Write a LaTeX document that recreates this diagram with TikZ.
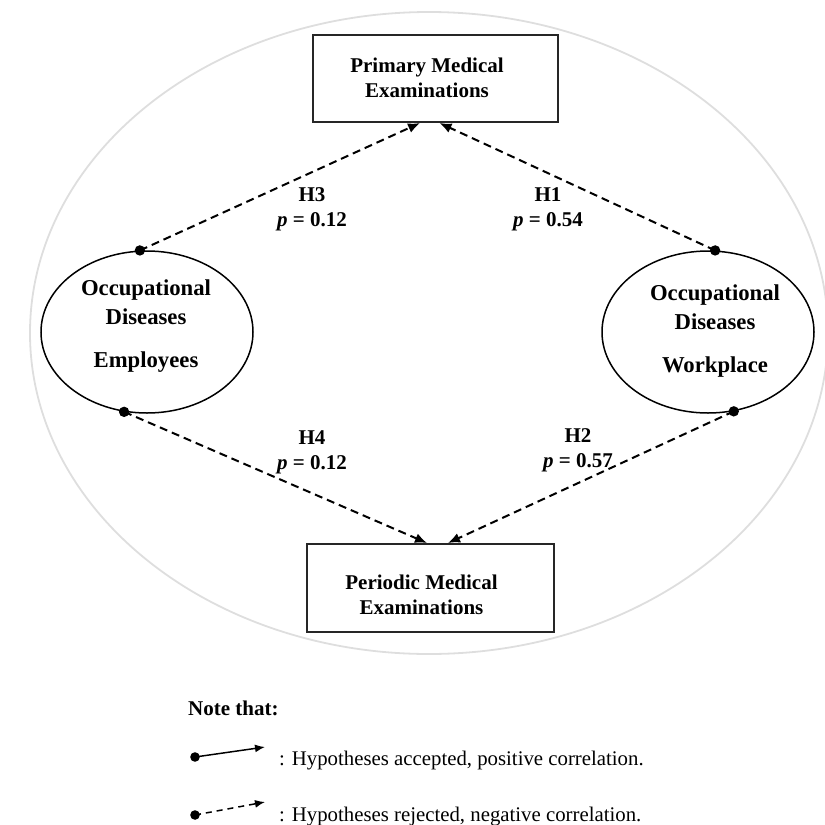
\documentclass[tikz,border=0pt]{standalone}
\usepackage{fontspec}
\setmainfont{Liberation Serif}
\usetikzlibrary{arrows.meta,shapes.geometric}

\begin{document}
\begin{tikzpicture}[x=1pt,y=-1pt,
  every node/.style={inner sep=0pt, font=\bfseries\fontsize{21}{25}\selectfont, align=center},
  exambox/.style={draw=black!85, line width=2pt, minimum width=245pt, minimum height=87pt},
  factor/.style={ellipse, draw, line width=1.5pt, minimum width=212pt, minimum height=162pt},
  ovaltext/.style={font=\bfseries\fontsize{22.7}{29}\selectfont},
  hyp/.style={dash pattern=on 8pt off 5pt, line width=2pt, -{Latex[length=12pt,width=10pt]}},
  legendtext/.style={anchor=west, font=\fontsize{20.8}{25}\selectfont},
  legendarrow/.style={line width=1.5pt, -{Latex[length=10pt,width=8pt]}},
]
\useasboundingbox (0,0) rectangle (825,825);

% faint outer frame
\draw[black!13, line width=1.8pt] (429,333) ellipse [x radius=399, y radius=321];

% examination boxes
\node[exambox] (pme) at (435.5,78.5) {};
\node (pmetxt) at (427,77.4) {Primary Medical\\Examinations};
\node[exambox, minimum width=247pt, minimum height=88pt] (peme) at (430.5,588) {};
\node (pemetxt) at (421.5,594.4) {Periodic Medical\\Examinations};

% occupational disease factors
\node[factor] (ode) at (147,332) {};
\node[ovaltext] (odetxt) at (146,326) {Occupational\\Diseases\\[14pt]Employees};
\node[factor] (odw) at (708,332) {};
\node[ovaltext] (odwtxt) at (715,331) {Occupational\\Diseases\\[14pt]Workplace};

% hypotheses
\draw[hyp] (ode.95) -- ([xshift=-15.5pt]pme.south);
\draw[hyp] (odw.85) -- ([xshift=4pt]pme.south);
\draw[hyp] (ode.254) -- ([xshift=-3.5pt]peme.north);
\draw[hyp] (odw.288) -- ([xshift=17.5pt]peme.north);
\foreach \p in {ode.95, odw.85, ode.254, odw.288}
  \fill (\p) circle (5.2);

\node (h3) at (312,209) {H3\\\textit{p} = 0.12};
\node (h1) at (548,209) {H1\\\textit{p} = 0.54};
\node (h4) at (312,452) {H4\\\textit{p} = 0.12};
\node (h2) at (578,450) {H2\\\textit{p} = 0.57};

% legend
\node[anchor=west] (note) at (188,708) {Note that:};
\coordinate (acc0) at (195,757);
\coordinate (acc1) at (265,747);
\draw[legendarrow] (acc0) -- (acc1);
\fill (acc0) circle (4.8);
\node[legendtext] (acctxt) at (279,761) {: Hypotheses accepted, positive correlation.};
\coordinate (rej0) at (195,815);
\coordinate (rej1) at (265,802);
\draw[legendarrow, dash pattern=on 6pt off 5pt] (rej0) -- (rej1);
\fill (rej0) circle (4.8);
\node[legendtext] (rejtxt) at (279,817) {: Hypotheses rejected, negative correlation.};
\end{tikzpicture}
\end{document}
